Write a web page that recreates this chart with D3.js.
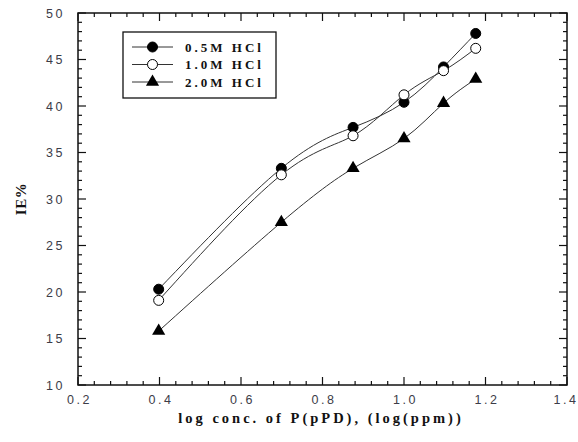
<!DOCTYPE html>
<html>
<head>
<meta charset="utf-8">
<script src="https://cdn.jsdelivr.net/npm/d3@7"></script>
<style>
  body { margin: 0; background: #fff; }
  svg { display: block; }
  .tick-label { font-family: Arial, "Liberation Sans", sans-serif; font-size: 12.5px; fill: #3c3c48; letter-spacing: 2.5px; }
  .axis-title { font-family: "Liberation Serif", "Times New Roman", serif; font-weight: bold; fill: #111; }
  .legend-text { font-family: "Liberation Serif", "Times New Roman", serif; font-weight: bold; font-size: 13px; fill: #111; letter-spacing: 3px; }
</style>
</head>
<body>
<svg id="chart" width="578" height="442"></svg>
<script>
// log concentration of pPD (log ppm)
const logConc = [0.398, 0.699, 0.875, 1.0, 1.097, 1.176];

// inhibition efficiency (%) for each acid concentration
const ie05 = [20.3, 33.3, 37.7, 40.4, 44.2, 47.8];
const ie10 = [19.1, 32.6, 36.8, 41.2, 43.8, 46.2];
const ie20 = [15.8, 27.5, 33.3, 36.5, 40.3, 42.9];

const seriesNames = ["0.5M HCl", "1.0M HCl", "2.0M HCl"];
const markerTypes = ["filled", "open", "triangle"];

const xTicks = [0.2, 0.4, 0.6, 0.8, 1.0, 1.2, 1.4];
const yTicks = [10, 15, 20, 25, 30, 35, 40, 45, 50];

const svg = d3.select("#chart");
const plotLeft = 78, plotRight = 567, plotTop = 13, plotBottom = 385;

const x = d3.scaleLinear().domain([0.2, 1.4]).range([plotLeft, plotRight]);
const y = d3.scaleLinear().domain([10, 50]).range([plotBottom, plotTop]);

// minor tick positions
const xMinor = d3.range(0.2, 1.4001, 0.04).filter(v => Math.abs(v * 5 - Math.round(v * 5)) > 1e-6);
const yMinor = d3.range(10, 50.001, 1).filter(v => v % 5 !== 0);

const g = svg.append("g");

// inward-facing ticks on all four sides
function drawTicks() {
  const tk = g.append("g").attr("stroke", "#111").attr("stroke-width", 1.2);
  const major = 8, minor = 4;
  xTicks.forEach(v => {
    tk.append("line").attr("x1", x(v)).attr("x2", x(v)).attr("y1", plotBottom).attr("y2", plotBottom - major);
    tk.append("line").attr("x1", x(v)).attr("x2", x(v)).attr("y1", plotTop).attr("y2", plotTop + major);
  });
  xMinor.forEach(v => {
    tk.append("line").attr("x1", x(v)).attr("x2", x(v)).attr("y1", plotBottom).attr("y2", plotBottom - minor);
    tk.append("line").attr("x1", x(v)).attr("x2", x(v)).attr("y1", plotTop).attr("y2", plotTop + minor);
  });
  yTicks.forEach(v => {
    tk.append("line").attr("x1", plotLeft).attr("x2", plotLeft + major).attr("y1", y(v)).attr("y2", y(v));
    tk.append("line").attr("x1", plotRight).attr("x2", plotRight - major).attr("y1", y(v)).attr("y2", y(v));
  });
  yMinor.forEach(v => {
    tk.append("line").attr("x1", plotLeft).attr("x2", plotLeft + minor).attr("y1", y(v)).attr("y2", y(v));
    tk.append("line").attr("x1", plotRight).attr("x2", plotRight - minor).attr("y1", y(v)).attr("y2", y(v));
  });
}
drawTicks();

// frame
g.append("rect")
  .attr("x", plotLeft).attr("y", plotTop)
  .attr("width", plotRight - plotLeft).attr("height", plotBottom - plotTop)
  .attr("fill", "none").attr("stroke", "#111").attr("stroke-width", 1.5);

// tick labels (the last one is pulled in slightly so it stays on the page)
g.selectAll(".xl").data(xTicks).join("text")
  .attr("class", "tick-label")
  .attr("x", (d, i) => x(d) + (i === xTicks.length - 1 ? -1 : 1.5)).attr("y", 404)
  .attr("text-anchor", "middle")
  .text(d => d.toFixed(1));

g.selectAll(".yl").data(yTicks).join("text")
  .attr("class", "tick-label")
  .attr("x", 65).attr("y", d => y(d) + 4.5)
  .attr("text-anchor", "end")
  .text(d => d);

// axis titles
g.append("text").attr("class", "axis-title")
  .attr("x", 321).attr("y", 423)
  .attr("text-anchor", "middle")
  .attr("font-size", 14.5).attr("letter-spacing", "3px")
  .text("log conc. of P(pPD), (log(ppm))");

g.append("text").attr("class", "axis-title")
  .attr("transform", "translate(26,199) rotate(-90)")
  .attr("text-anchor", "middle")
  .attr("font-size", 15).attr("letter-spacing", "0.5px")
  .text("IE%");

// smooth spline curves through the points
const line = d3.line()
  .x(d => x(d[0])).y(d => y(d[1]))
  .curve(d3.curveNatural);

const allSeries = [ie05, ie10, ie20];
allSeries.forEach(vals => {
  g.append("path")
    .datum(logConc.map((c, i) => [c, vals[i]]))
    .attr("d", line)
    .attr("fill", "none").attr("stroke", "#333").attr("stroke-width", 1);
});

const tri = d3.symbol().type(d3.symbolTriangle).size(75);

function drawMarker(sel, type, cx, cy) {
  if (type === "triangle") {
    sel.append("path").attr("d", tri())
      .attr("transform", `translate(${cx},${cy})`).attr("fill", "#000");
  } else {
    sel.append("circle").attr("cx", cx).attr("cy", cy).attr("r", 5)
      .attr("fill", type === "filled" ? "#000" : "#fff")
      .attr("stroke", "#000").attr("stroke-width", 1);
  }
}

allSeries.forEach((vals, s) => {
  logConc.forEach((c, i) => drawMarker(g, markerTypes[s], x(c), y(vals[i])));
});

// legend
const lg = g.append("g");
lg.append("rect").attr("x", 123).attr("y", 32).attr("width", 153).attr("height", 66)
  .attr("fill", "#fff").attr("stroke", "#111").attr("stroke-width", 1.3);
const rowY = [47, 64.5, 82];
seriesNames.forEach((name, i) => {
  lg.append("line").attr("x1", 132).attr("x2", 173).attr("y1", rowY[i]).attr("y2", rowY[i])
    .attr("stroke", "#333").attr("stroke-width", 1);
  drawMarker(lg, markerTypes[i], 152.5, rowY[i]);
  lg.append("text").attr("class", "legend-text")
    .attr("x", 185).attr("y", rowY[i] + 4.5)
    .text(name);
});
</script>
</body>
</html>
